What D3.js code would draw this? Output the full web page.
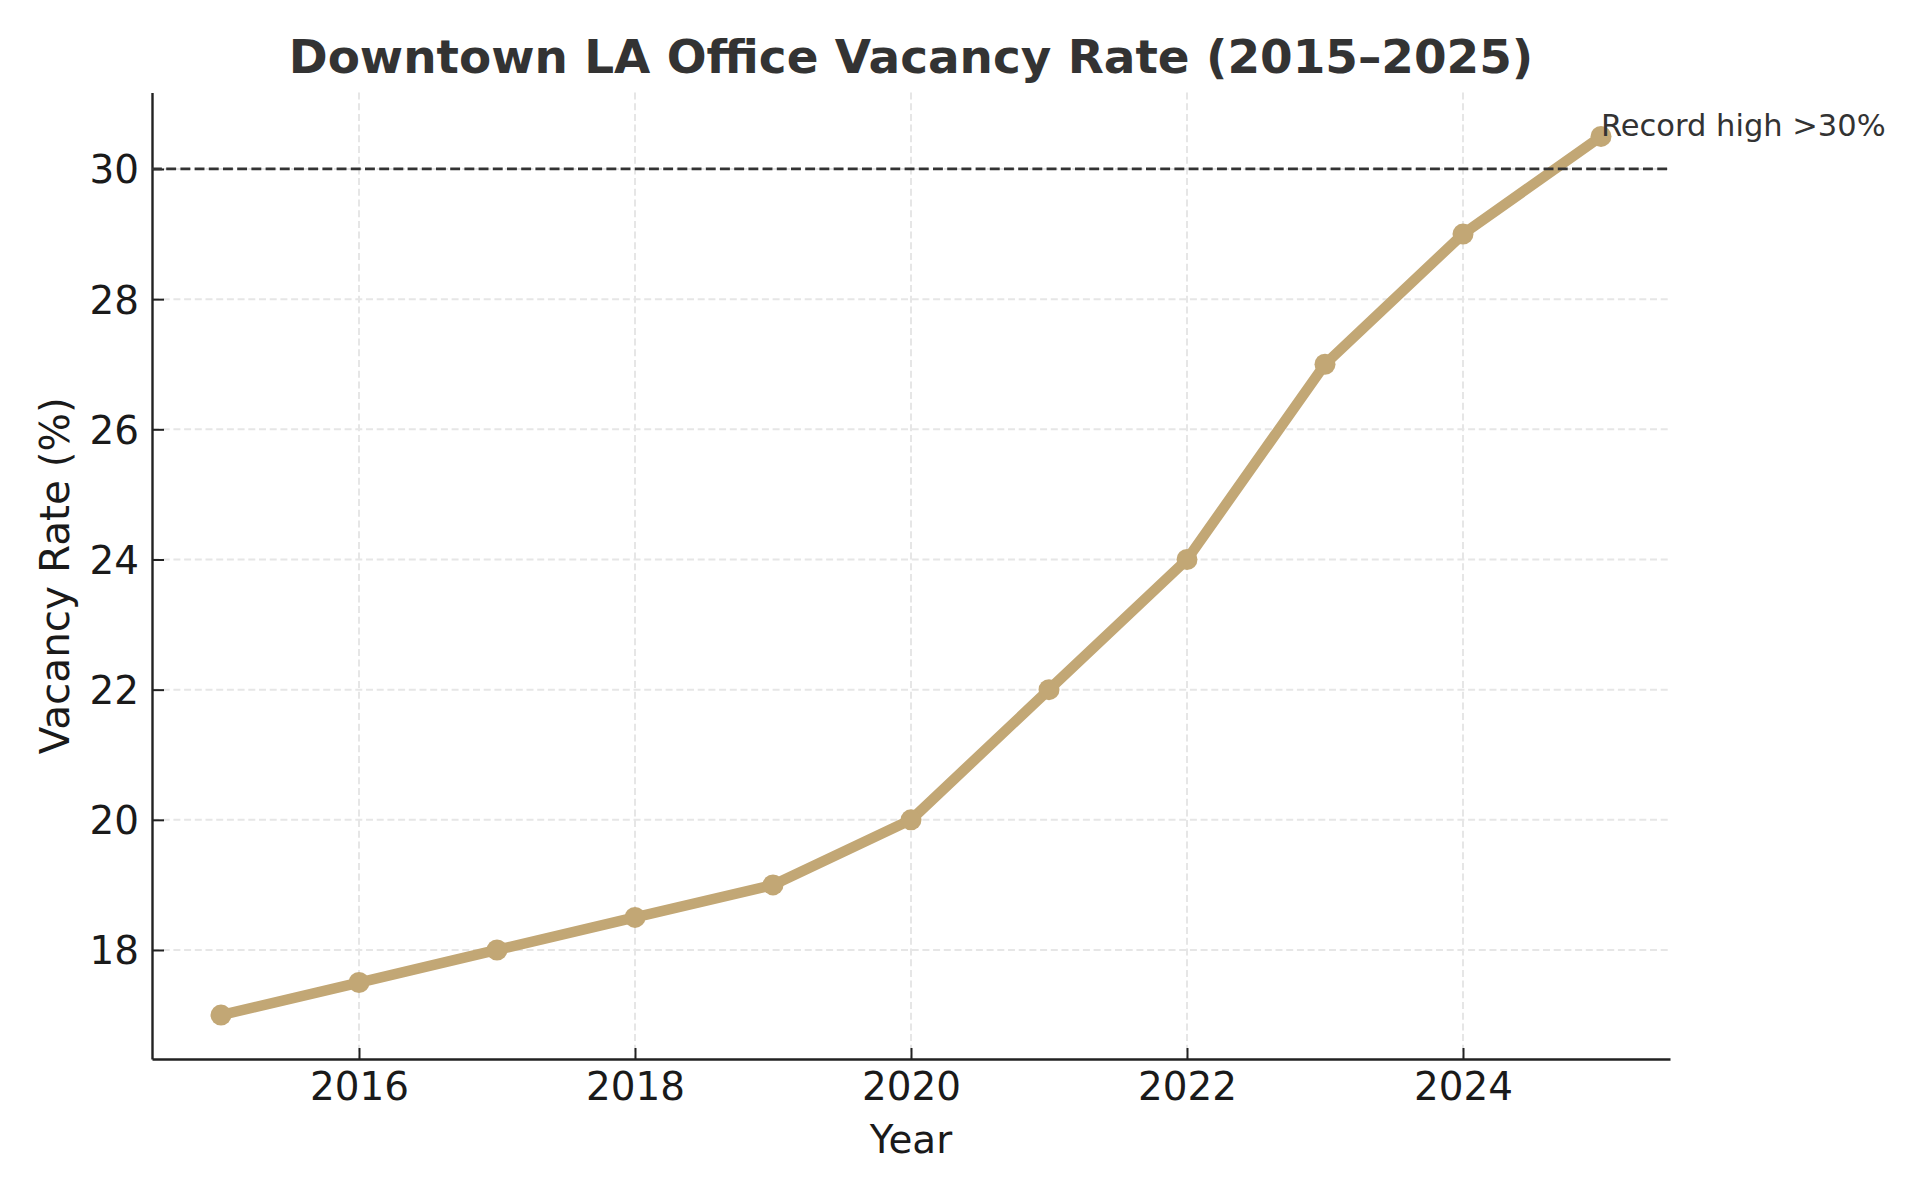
<!DOCTYPE html>
<html>
<head>
<meta charset="utf-8">
<script src="https://cdn.jsdelivr.net/npm/d3@7"></script>
<style>
  html, body { margin: 0; padding: 0; background: #fff; }
  svg { display: block; font-family: "DejaVu Sans", sans-serif; }
</style>
</head>
<body>
<svg id="chart" width="1920" height="1200"></svg>
<script>
// ---- data ----
const years = [2015, 2016, 2017, 2018, 2019, 2020, 2021, 2022, 2023, 2024, 2025];
const vacancyRate = [17, 17.5, 18, 18.5, 19, 20, 22, 24, 27, 29, 30.5];
const xTickValues = [2016, 2018, 2020, 2022, 2024];
const yTickValues = [18, 20, 22, 24, 26, 28, 30];
const thresholdValue = [30];
const titleText = "Downtown LA Office Vacancy Rate (2015\u20132025)";
const xLabelText = "Year";
const yLabelText = "Vacancy Rate (%)";
const annotationText = "Record high >30%";

// ---- layout ----
const W = 1920, H = 1200;
const m = { left: 152, right: W - 1670, top: 92.5, bottom: H - 1059 };
const svg = d3.select("#chart");

const xMin = d3.min(years), xMax = d3.max(years);
const xPad = (xMax - xMin) * 0.05;
const yMin = d3.min(vacancyRate), yMax = d3.max(vacancyRate);
const yPad = (yMax - yMin) * 0.05;

const x = d3.scaleLinear().domain([xMin - xPad, xMax + xPad]).range([m.left, W - m.right]);
const y = d3.scaleLinear().domain([yMin - yPad, yMax + yPad]).range([H - m.bottom, m.top]);

const lineColor = "#c2a775";
const gridColor = "#e6e6e6";
const tickFont = 38.9;

// grid
const grid = svg.append("g");
grid.selectAll("line.gx").data(xTickValues).join("line")
  .attr("x1", d => x(d)).attr("x2", d => x(d))
  .attr("y1", m.top).attr("y2", H - m.bottom)
  .attr("stroke", gridColor).attr("stroke-width", 2).attr("stroke-dasharray", "7,3.7");
grid.selectAll("line.gy").data(yTickValues).join("line")
  .attr("y1", d => y(d)).attr("y2", d => y(d))
  .attr("x1", m.left).attr("x2", W - m.right)
  .attr("stroke", gridColor).attr("stroke-width", 2).attr("stroke-dasharray", "7,3.7");

// axes
const xAxis = d3.axisBottom(x).tickValues(xTickValues).tickFormat(d3.format("d"))
  .tickSizeInner(-11).tickSizeOuter(0).tickPadding(13);
const yAxis = d3.axisLeft(y).tickValues(yTickValues).tickFormat(d3.format("d"))
  .tickSizeInner(-12).tickSizeOuter(0).tickPadding(13);

const gx = svg.append("g").attr("transform", `translate(0,${H - m.bottom})`).call(xAxis);
const gy = svg.append("g").attr("transform", `translate(${m.left},0)`).call(yAxis);
[gx, gy].forEach(g => {
  g.select(".domain").attr("stroke", "#222").attr("stroke-width", 2.4);
  g.selectAll(".tick line").attr("stroke", "#222").attr("stroke-width", 2);
  g.selectAll(".tick text").attr("fill", "#1a1a1a").attr("font-size", tickFont)
    .attr("font-family", "DejaVu Sans, sans-serif");
});
gx.selectAll(".tick text").attr("dy", "0.71em");
gy.selectAll(".tick text").attr("dy", "0.36em");

// line + markers
const line = d3.line().x((d, i) => x(years[i])).y(d => y(d));
svg.append("path").datum(vacancyRate)
  .attr("d", line).attr("fill", "none")
  .attr("stroke", lineColor).attr("stroke-width", 10.5)
  .attr("stroke-linejoin", "round").attr("stroke-linecap", "butt");
svg.append("g").selectAll("circle").data(vacancyRate).join("circle")
  .attr("cx", (d, i) => x(years[i])).attr("cy", d => y(d))
  .attr("r", 10.5).attr("fill", lineColor);

// threshold line
svg.append("g").selectAll("line").data(thresholdValue).join("line")
  .attr("x1", m.left).attr("x2", W - m.right)
  .attr("y1", d => y(d)).attr("y2", d => y(d))
  .attr("stroke", "#333").attr("stroke-width", 2.8).attr("stroke-dasharray", "9.9,4.3");

// annotation
svg.append("text")
  .attr("x", x(years[years.length - 1])).attr("y", y(vacancyRate[vacancyRate.length - 1]))
  .attr("fill", "#333").attr("font-size", 30.5)
  .text(annotationText);

// title
svg.append("text")
  .attr("x", (m.left + W - m.right) / 2).attr("y", 73.3)
  .attr("text-anchor", "middle").attr("font-weight", "bold")
  .attr("font-size", 46.9).attr("fill", "#333")
  .text(titleText);

// axis labels
svg.append("text")
  .attr("x", (m.left + W - m.right) / 2).attr("y", 1153.3)
  .attr("text-anchor", "middle").attr("font-size", tickFont).attr("fill", "#1a1a1a")
  .text(xLabelText);
svg.append("text")
  .attr("transform", `translate(69,${(m.top + H - m.bottom) / 2}) rotate(-90)`)
  .attr("text-anchor", "middle").attr("font-size", 40.5).attr("fill", "#1a1a1a")
  .text(yLabelText);
</script>
</body>
</html>
